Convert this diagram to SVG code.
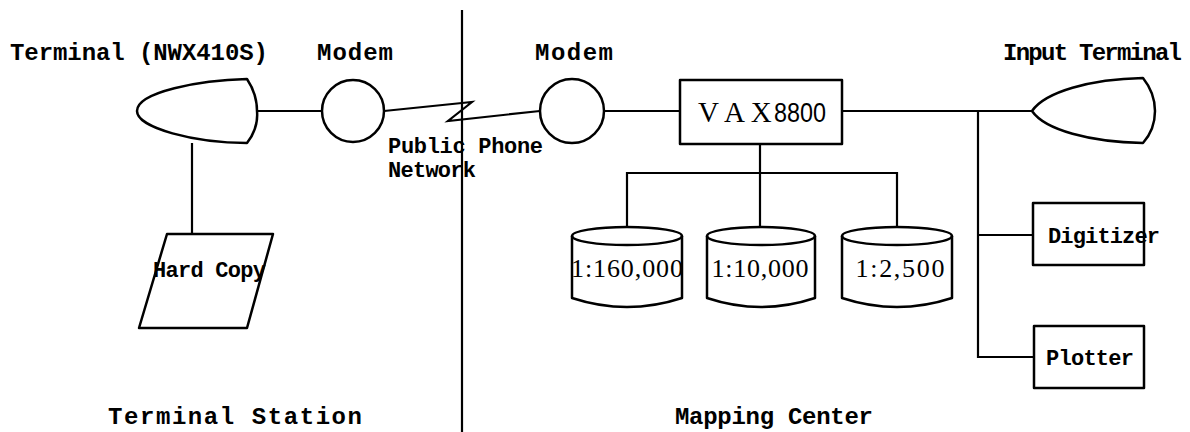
<svg xmlns="http://www.w3.org/2000/svg" width="1190" height="432" viewBox="0 0 1190 432">
<style>
.s{fill:none;stroke:#000;stroke-width:2.5;stroke-linejoin:round}
.c{fill:none;stroke:#000;stroke-width:2.2}
.l{font-family:"Liberation Mono","DejaVu Sans Mono",monospace;font-weight:bold;font-size:24px;fill:#000}
.m{font-family:"Liberation Mono","DejaVu Sans Mono",monospace;font-weight:bold;font-size:22px;fill:#000}
.n{font-family:"Liberation Serif","DejaVu Serif",serif;font-size:26px;fill:#000}
</style>
<rect width="1190" height="432" fill="#fff"/>
<g id="divider"><line x1="462" y1="10" x2="462" y2="432" class="c"/></g>
<g id="connectors">
<line x1="257" y1="111" x2="322" y2="111" class="c"/>
<polyline points="384,111 462,103 472,102 448,121 540,111" class="c"/>
<line x1="604" y1="111" x2="680" y2="111" class="c"/>
<line x1="842" y1="111" x2="1032" y2="111" class="c"/>
<line x1="192" y1="143" x2="192" y2="234" class="c"/>
<line x1="760" y1="144" x2="760" y2="227" class="c"/>
<polyline points="627,227 627,173 897,173 897,227" class="c"/>
<polyline points="978,111 978,357 1034,357" class="c"/>
<line x1="978" y1="235" x2="1033" y2="235" class="c"/>
</g>
<g id="terminal">
<path class="s" d="M247 79 C200 80 137 92 137 111 C137 128 195 143 247 143 C254 134 258 122 257 111 C257 99 253 88 247 79 Z"/>
<text class="l" x="10" y="60" textLength="258">Terminal (NWX410S)</text>
</g>
<g id="modem-left">
<circle cx="353" cy="111" r="31" class="s"/>
<text class="l" x="317" y="60" textLength="76">Modem</text>
</g>
<g id="phone-network">
<text class="m" x="388" y="153" textLength="155">Public Phone</text>
<text class="m" x="388" y="177" textLength="88">Network</text>
</g>
<g id="hardcopy">
<polygon class="s" points="167,234 273,234 247,328 139,328"/>
<text class="m" x="153" y="277" textLength="113">Hard Copy</text>
</g>
<g id="modem-right">
<circle cx="572" cy="111" r="32" class="s"/>
<text class="l" x="535" y="60" textLength="78">Modem</text>
</g>
<g id="vax">
<rect x="680" y="80" width="162" height="64" class="s"/>
<text x="698" y="122" font-family="Liberation Serif, serif" font-size="29">V A X</text>
<text x="774" y="122" font-family="Liberation Sans, sans-serif" font-size="27" textLength="52" lengthAdjust="spacingAndGlyphs">8800</text>
</g>
<g id="input-terminal">
<path class="s" d="M1032 111 C1045 92 1090 79 1143 78 C1151 88 1155 99 1155 111 C1155 123 1151 134 1143 143 C1090 142 1045 130 1032 111 Z"/>
<text class="l" x="1003" y="60" textLength="179">Input Terminal</text>
</g>
<g id="db1">
<path class="s" d="M572 236 L572 298 Q627 316 682 298 L682 236"/>
<ellipse cx="627" cy="236" rx="55" ry="9" class="s"/>
<text class="n" x="627" y="277" text-anchor="middle" textLength="112">1:160,000</text>
</g>
<g id="db2">
<path class="s" d="M707 236 L707 298 Q761 316 815 298 L815 236"/>
<ellipse cx="761" cy="236" rx="54" ry="9" class="s"/>
<text class="n" x="760" y="277" text-anchor="middle" textLength="97">1:10,000</text>
</g>
<g id="db3">
<path class="s" d="M842 236 L842 298 Q897 316 952 298 L952 236"/>
<ellipse cx="897" cy="236" rx="55" ry="9" class="s"/>
<text class="n" x="900" y="277" text-anchor="middle" textLength="89">1:2,500</text>
</g>
<g id="digitizer">
<rect x="1033" y="203" width="111" height="62" class="s"/>
<text class="m" x="1048" y="243" textLength="112">Digitizer</text>
</g>
<g id="plotter">
<rect x="1034" y="326" width="110" height="62" class="s"/>
<text class="m" x="1046" y="365" textLength="88">Plotter</text>
</g>
<g id="section-labels">
<text class="l" x="108" y="424" textLength="254">Terminal Station</text>
<text class="l" x="675" y="424" textLength="198">Mapping Center</text>
</g>
</svg>
